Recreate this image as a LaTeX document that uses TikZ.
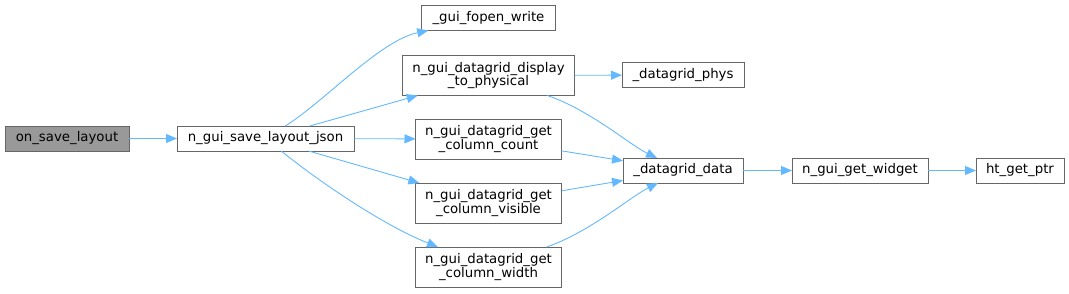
\documentclass[tikz,border=0pt]{standalone}
\usepackage{fontspec}
\setmainfont{DejaVu Sans}
\usetikzlibrary{arrows.meta}
\definecolor{edgeblue}{HTML}{63B8FF}
\definecolor{boxline}{HTML}{666666}
\definecolor{curfill}{HTML}{999999}
\begin{document}
\begin{tikzpicture}[x=1pt,y=-1pt,
  fn/.style={draw=boxline,line width=0.9pt,fill=white,inner sep=0pt,outer sep=0pt,
    font=\fontsize{13.3}{13.8}\selectfont,align=center,minimum height=25pt},
  fn2/.style={fn,minimum height=40pt},
  cur/.style={fn,fill=curfill},
  call/.style={draw=edgeblue,line width=0.9pt,-{Triangle[length=11pt,width=9pt]}}]
\useasboundingbox (0,0) rectangle (1069,293);
\node[cur,minimum width=124pt] (on) at (67,138.5) {on\_save\_layout};
\node[fn,minimum width=177pt] (json) at (265.5,138.5) {n\_gui\_save\_layout\_json};
\node[fn,minimum width=134pt] (fopen) at (488.5,18) {\_gui\_fopen\_write};
\node[fn2,minimum width=172pt] (disp) at (488.5,75.5) {n\_gui\_datagrid\_display\\\_to\_physical};
\node[fn,minimum width=122pt] (phys) at (683,75) {\_datagrid\_phys};
\node[fn2,minimum width=146pt] (count) at (488.5,139) {n\_gui\_datagrid\_get\\\_column\_count};
\node[fn2,minimum width=146pt] (vis) at (488.5,203) {n\_gui\_datagrid\_get\\\_column\_visible};
\node[fn2,minimum width=146pt] (wid) at (488.5,267) {n\_gui\_datagrid\_get\\\_column\_width};
\node[fn,minimum width=120pt] (data) at (683,170.5) {\_datagrid\_data};
\node[fn,minimum width=136pt] (widget) at (860,170.5) {n\_gui\_get\_widget};
\node[fn,minimum width=88pt] (ht) at (1020,170.5) {ht\_get\_ptr};

\draw[call] (on) -- (json);
\draw[call] (json) .. controls (325,101) and (380,40.5) .. (fopen);
\draw[call] (json) -- (disp);
\draw[call] (json) -- (count);
\draw[call] (json) -- (vis);
\draw[call] (json) .. controls (330,190) and (390,228) .. (wid);
\draw[call] (disp) -- (phys);
\draw[call] (disp) .. controls (590,110) and (630,145) .. (data);
\draw[call] (count) -- (data);
\draw[call] (vis) -- (data);
\draw[call] (wid) .. controls (590,232) and (630,197) .. (data);
\draw[call] (data) -- (widget);
\draw[call] (widget) -- (ht);
\end{tikzpicture}
\end{document}
